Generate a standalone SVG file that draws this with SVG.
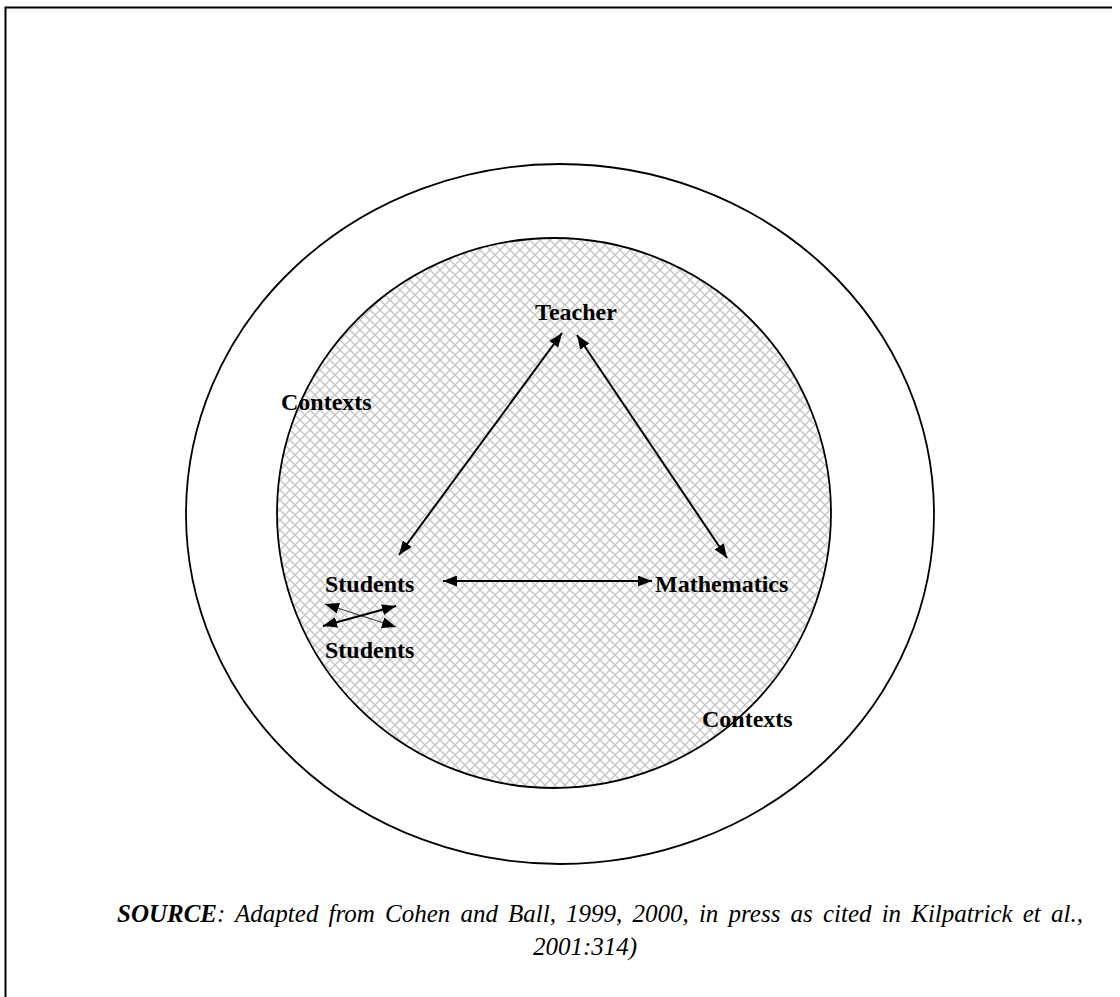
<svg xmlns="http://www.w3.org/2000/svg" width="1120" height="997" viewBox="0 0 1120 997">
<defs>
<pattern id="hatch" patternUnits="userSpaceOnUse" width="10" height="10">
<path d="M0,0 L10,10 M10,0 L0,10" stroke="#c4c4c4" stroke-width="1.4" fill="none"/>
</pattern>
<marker id="ah" viewBox="0 0 14 11" refX="14" refY="5.5" markerWidth="14" markerHeight="11" markerUnits="userSpaceOnUse" orient="auto-start-reverse">
<path d="M0,0 L14,5.5 L0,11 z" fill="#000"/>
</marker>
</defs>
<style>
.lbl{font-family:"Liberation Serif","Times New Roman",serif;font-weight:bold;font-size:24px;fill:#000}
.cap{font-family:"Liberation Serif","Times New Roman",serif;font-style:italic;font-size:25px;fill:#000}
.conn{stroke:#000;stroke-width:2;fill:none;marker-start:url(#ah);marker-end:url(#ah)}
.thin{stroke:#000;stroke-width:0.8;fill:none;marker-start:url(#ah);marker-end:url(#ah)}
</style>
<g id="frame">
<path d="M5.5,997 L5.5,7.5 L1112,7.5" stroke="#000" stroke-width="2" fill="none"/>
</g>
<g id="outer-contexts">
<ellipse cx="560" cy="514" rx="374" ry="350" fill="#fff" stroke="#000" stroke-width="1.8"/>
</g>
<g id="inner-circle">
<ellipse cx="554" cy="513" rx="277" ry="275" fill="url(#hatch)" stroke="#000" stroke-width="1.8"/>
</g>
<g id="connectors">
<line class="conn" x1="562" y1="333" x2="399" y2="555"/>
<line class="conn" x1="577" y1="335" x2="727" y2="558"/>
<line class="conn" x1="443" y1="581" x2="652" y2="581"/>
<line class="conn" x1="323" y1="626" x2="396" y2="606"/>
<line class="thin" x1="325" y1="604" x2="396" y2="627"/>
</g>
<g id="node-teacher"><text class="lbl" x="576" y="320" text-anchor="middle">Teacher</text></g>
<g id="node-students"><text class="lbl" x="325" y="592">Students</text></g>
<g id="node-students2"><text class="lbl" x="325" y="658">Students</text></g>
<g id="node-mathematics"><text class="lbl" x="655" y="592">Mathematics</text></g>
<g id="label-contexts1"><text class="lbl" x="281" y="410">Contexts</text></g>
<g id="label-contexts2"><text class="lbl" x="702" y="727">Contexts</text></g>
<g id="caption">
<text class="cap" x="117" y="922" word-spacing="3.9"><tspan font-weight="bold">SOURCE</tspan>: Adapted from Cohen and Ball, 1999, 2000, in press as cited in Kilpatrick et al.,</text>
<text class="cap" x="585" y="955" text-anchor="middle">2001:314)</text>
</g>
</svg>
